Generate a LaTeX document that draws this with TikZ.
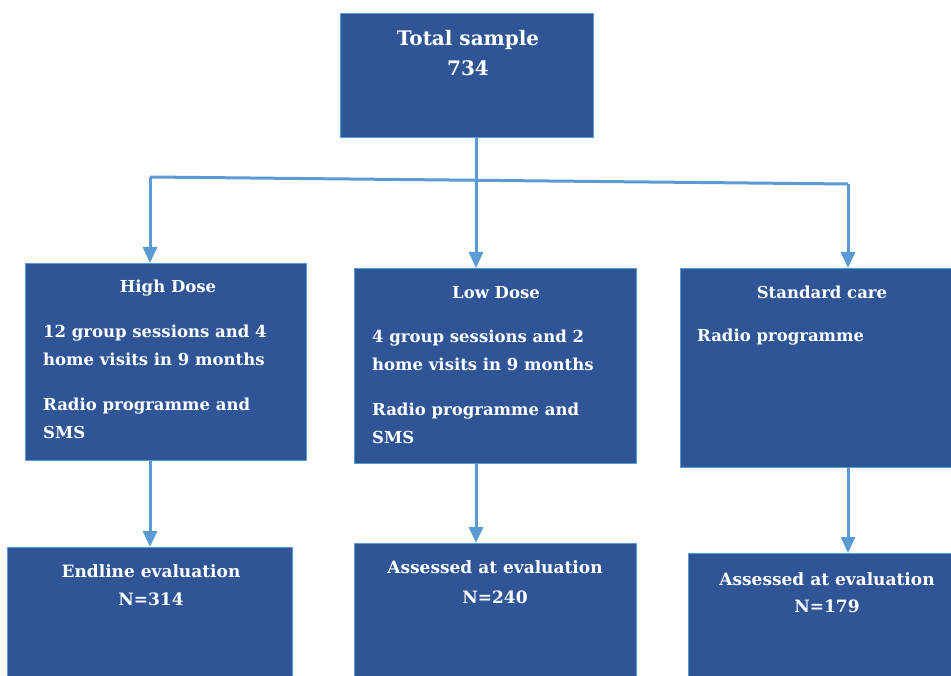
\documentclass[tikz,border=0pt]{standalone}
\usepackage{fontspec}
\setmainfont{DejaVu Serif}
\usetikzlibrary{arrows.meta}
\definecolor{boxblue}{HTML}{2F5597}
\definecolor{linkblue}{HTML}{5B9BD5}
\begin{document}
\begin{tikzpicture}[
    x=1pt, y=-1pt,
    box/.style={rectangle, draw=linkblue, line width=1.2pt, fill=boxblue, anchor=north west, inner sep=0pt},
    txt/.style={text=white, font=\bfseries\fontsize{16.5}{28}\selectfont, inner sep=0pt, align=left},
    head/.style={txt, anchor=base},
    body/.style={txt, anchor=base west},
    result/.style={txt, font=\bfseries\fontsize{17}{28}\selectfont, anchor=base},
    arrow/.style={-{Triangle[width=14pt,length=16pt]}, draw=linkblue, line width=3pt},
    link/.style={draw=linkblue, line width=3pt}
]
    \useasboundingbox (0,0) rectangle (951,676);

    % boxes
    \node[box, minimum width=253pt, minimum height=124pt] (total) at (340,13) {};
    \node[box, minimum width=281pt, minimum height=197pt] (high) at (25,263) {};
    \node[box, minimum width=282pt, minimum height=195pt] (low) at (354,268) {};
    \node[box, minimum width=290pt, minimum height=199pt] (std) at (680,268) {};
    \node[box, minimum width=285pt, minimum height=140pt] (endline) at (7,547) {};
    \node[box, minimum width=282pt, minimum height=145pt] (lowres) at (354,543) {};
    \node[box, minimum width=280pt, minimum height=135pt] (stdres) at (688,553) {};

    % texts
    \node[head, font=\bfseries\fontsize{20}{30}\selectfont] (totaltxt) at (468,46) {Total sample};
    \node[head, font=\bfseries\fontsize{20}{30}\selectfont] (totalnum) at (468,76) {734};
    \node[head] (hightitle) at (168,293) {High Dose};
    \node[body, anchor=north west] (hightxt) at (43,325) {12 group sessions and 4\\home visits in 9 months\\[17pt]Radio programme and\\SMS};
    \node[head] (lowtitle) at (496,299) {Low Dose};
    \node[body, anchor=north west] (lowtxt) at (372,330) {4 group sessions and 2\\home visits in 9 months\\[17pt]Radio programme and\\SMS};
    \node[head] (stdtitle) at (822,299) {Standard care};
    \node[body] (stdtxt) at (697,342) {Radio programme};
    \node[result] (endtxt) at (151,577) {Endline evaluation};
    \node[result] (endnum) at (151,605) {N=314};
    \node[result] (lowrestxt) at (495,573) {Assessed at evaluation};
    \node[result] (lowresnum) at (495,603) {N=240};
    \node[result] (stdrestxt) at (827,585) {Assessed at evaluation};
    \node[result] (stdresnum) at (827,612) {N=179};

    % connectors
    \coordinate (splitL) at (150,177);
    \coordinate (splitM) at (476,180);
    \coordinate (splitR) at (848,184);
    \draw[link] (splitL) -- (splitR);
    \draw[arrow] (splitM |- total.south) -- (splitM |- low.north);
    \draw[arrow] (splitL) -- (splitL |- high.north);
    \draw[arrow] (splitR) -- (splitR |- std.north);
    \draw[arrow] (splitL |- high.south) -- (splitL |- endline.north);
    \draw[arrow] (splitM |- low.south) -- (splitM |- lowres.north);
    \draw[arrow] (splitR |- std.south) -- (splitR |- stdres.north);
\end{tikzpicture}
\end{document}
